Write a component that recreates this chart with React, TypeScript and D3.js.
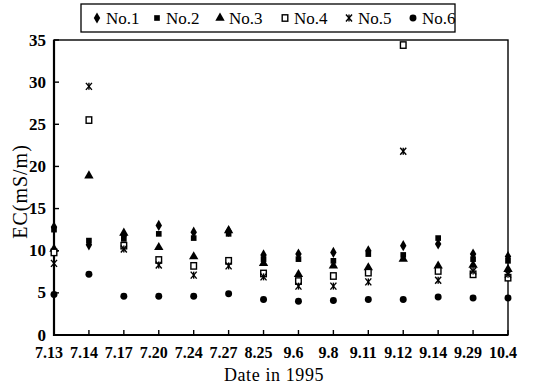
import React from 'react';
import * as d3 from 'd3';

const dates = ['7.13', '7.14', '7.17', '7.20', '7.24', '7.27', '8.25', '9.6', '9.8', '9.11', '9.12', '9.14', '9.29', '10.4'];

const no1 = [12.8, 10.7, 11.8, 13.0, 12.2, 12.3, 9.5, 9.6, 9.8, 10.0, 10.6, 10.8, 9.6, 9.3];
const no2 = [12.5, 11.2, 11.4, 12.0, 11.5, 12.0, 9.0, 9.0, 8.8, 9.6, 9.5, 11.5, 9.0, 8.8];
const no3 = [10.2, 18.9, 12.1, 10.4, 9.3, 12.4, 8.5, 7.2, 8.2, 8.0, 9.0, 8.2, 8.3, 7.8];
const no4 = [9.8, 25.5, 10.6, 8.9, 8.2, 8.8, 7.3, 6.4, 7.0, 7.4, 34.4, 7.6, 7.2, 6.8];
const no5 = [8.5, 29.5, 10.2, 8.3, 7.1, 8.2, 6.9, 5.8, 5.8, 6.3, 21.8, 6.5, 7.6, 7.2];
const no6 = [4.8, 7.2, 4.6, 4.6, 4.6, 4.9, 4.2, 4.0, 4.1, 4.2, 4.2, 4.5, 4.4, 4.4];

const seriesNames = ['No.1', 'No.2', 'No.3', 'No.4', 'No.5', 'No.6'];
const yTicks = [0, 5, 10, 15, 20, 25, 30, 35];

const W = 539;
const H = 387;
const serif = '"Liberation Serif", "DejaVu Serif", serif';

// marker shapes, one per series
const Marker = ({ kind, x, y }: { kind: number; x: number; y: number }) => {
  const t = `translate(${x},${y})`;
  if (kind === 0) return <path transform={t} d={d3.symbol(d3.symbolDiamond, 36)()!} fill="#000" />;
  if (kind === 1) return <path transform={t} d={d3.symbol(d3.symbolSquare, 32)()!} fill="#000" />;
  if (kind === 2) return <path transform={t} d={d3.symbol(d3.symbolTriangle, 38)()!} fill="#000" />;
  if (kind === 3) return <rect x={x - 2.8} y={y - 3.2} width={5.6} height={6.4} fill="#fff" stroke="#000" strokeWidth={1.4} />;
  if (kind === 4)
    return (
      <g transform={t} stroke="#000" strokeWidth={1.4}>
        <line x1={-3} y1={-3.5} x2={3} y2={3.5} />
        <line x1={3} y1={-3.5} x2={-3} y2={3.5} />
        <line x1={0} y1={-3.5} x2={0} y2={3.5} />
      </g>
    );
  return <path transform={t} d={d3.symbol(d3.symbolCircle, 38)()!} fill="#000" />;
};

export default () => {
  const x = d3.scalePoint<string>().domain(dates).range([54, 508]).padding(0);
  const y = d3.scaleLinear().domain([0, 35]).range([335, 40]);
  const all = [no1, no2, no3, no4, no5, no6];

  const legendX = [97, 157, 220, 285, 349, 413];

  return (
    <div style={{ position: 'fixed', left: 0, top: 0 }}>
      <svg width={W} height={H} style={{ display: 'block', background: '#fff' }}>
        {/* legend */}
        <rect x={81} y={4} width={374} height={28} fill="none" stroke="#000" strokeWidth={1.3} />
        {seriesNames.map((s, i) => (
          <g key={s}>
            <Marker kind={i} x={legendX[i]} y={18} />
            <text x={legendX[i] + 9} y={24} fontFamily={serif} fontSize={17} fill="#000">
              {s}
            </text>
          </g>
        ))}

        {/* frame */}
        <rect x={54} y={40} width={454} height={295} fill="none" stroke="#000" strokeWidth={1.4} />
        <line x1={54} x2={54} y1={40} y2={336} stroke="#000" strokeWidth={2.2} />
        <line x1={53} x2={508} y1={335} y2={335} stroke="#000" strokeWidth={2} />

        {/* y axis */}
        {yTicks.map((t) => (
          <g key={t}>
            <line x1={54} x2={59} y1={y(t)} y2={y(t)} stroke="#000" strokeWidth={1.4} />
            <text x={46} y={y(t) + 5.5} textAnchor="end" fontFamily={serif} fontWeight="bold" fontSize={17} fill="#000">
              {t}
            </text>
          </g>
        ))}
        <text
          transform={`translate(27,${(y(0) + y(35)) / 2 + 4}) rotate(-90)`}
          textAnchor="middle"
          fontFamily={serif}
          fontSize={20}
          letterSpacing={1}
          fill="#000"
        >
          EC(mS/m)
        </text>

        {/* x axis */}
        {dates.map((d) => (
          <g key={d}>
            <line x1={x(d)} x2={x(d)} y1={335} y2={330} stroke="#000" strokeWidth={1.4} />
            <text x={x(d)! - 5} y={358} textAnchor="middle" fontFamily={serif} fontWeight="bold" fontSize={16} fill="#000">
              {d}
            </text>
          </g>
        ))}
        <text x={274} y={381} textAnchor="middle" fontFamily={serif} fontSize={18} letterSpacing={0.6} fill="#000">
          Date in 1995
        </text>

        {/* points */}
        {all.map((vals, si) =>
          vals.map((v, i) => <Marker key={`${si}-${i}`} kind={si} x={x(dates[i])!} y={y(v)} />)
        )}
      </svg>
    </div>
  );
};
